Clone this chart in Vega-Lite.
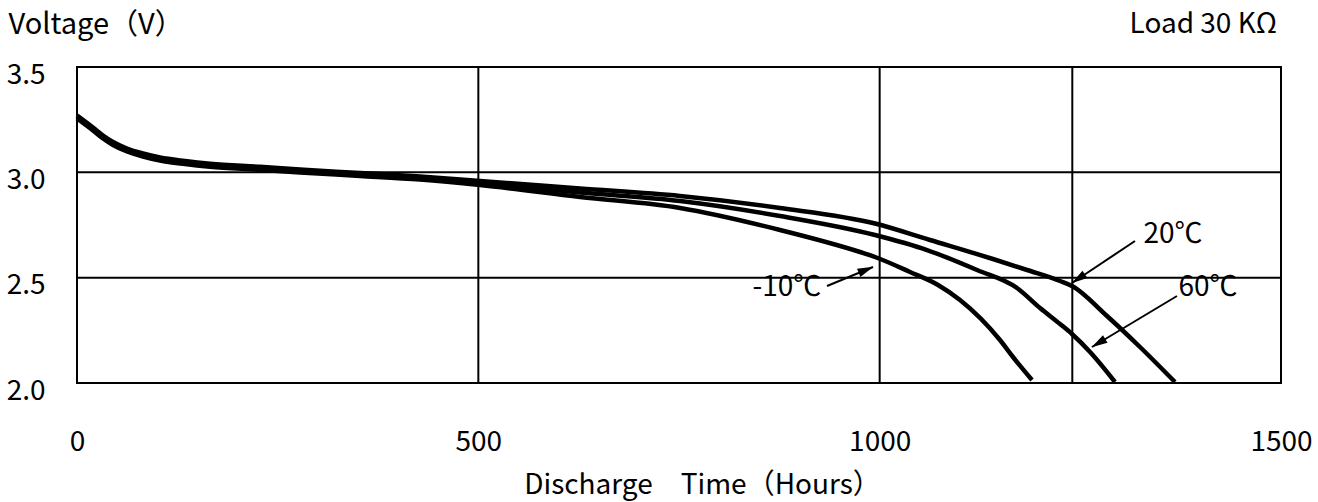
{
  "$schema": "https://vega.github.io/schema/vega-lite/v6.json",
  "width": 1204,
  "height": 316,
  "autosize": {"type": "none"},
  "padding": {"left": 77, "top": 67, "right": 37, "bottom": 119},
  "background": "white",
  "config": {
    "view": {"stroke": "black", "strokeWidth": 2},
    "font": "Noto Sans CJK SC",
    "axisX": {"grid": false, "domain": false, "ticks": false, "tickSize": 0,
      "labelFontSize": 28, "labelColor": "black", "labelFont": "Noto Sans CJK SC", "labelBaseline": "alphabetic", "labelPadding": 67, "labelFlush": false, "labelOverlap": false,
      "titleFontSize": 28, "titleFontWeight": "normal", "titleColor": "black", "titleFont": "Noto Sans CJK SC",
      "titleX": 625, "titleY": 110, "titleAlign": "center", "titleBaseline": "alphabetic"},
    "axisY": {"grid": false, "domain": false, "ticks": false, "tickSize": 0,
      "labelFontSize": 28, "labelColor": "black", "labelFont": "Noto Sans CJK SC", "labelAlign": "right", "labelBaseline": "middle", "labelPadding": 32, "labelOffset": 8, "labelOverlap": false, "labelFlush": false,
      "titleFontSize": 29, "titleFontWeight": "normal", "titleColor": "black", "titleFont": "Noto Sans CJK SC",
      "titleAngle": 0, "titleAlign": "left", "titleBaseline": "alphabetic", "titleX": -69, "titleY": -34}
  },
  "datasets": {
    "curves": [
      {"series": "20℃", "t": 0, "v": 3.2698}, {"series": "20℃", "t": 19.9, "v": 3.2128}, {"series": "20℃", "t": 32.4, "v": 3.1748}, {"series": "20℃", "t": 44.9, "v": 3.144}, {"series": "20℃", "t": 62.3, "v": 3.1131}, {"series": "20℃", "t": 82.2, "v": 3.0894}, {"series": "20℃", "t": 103.4, "v": 3.0704}, {"series": "20℃", "t": 134.6, "v": 3.0538}, {"series": "20℃", "t": 165.7, "v": 3.041}, {"series": "20℃", "t": 228, "v": 3.026}, {"series": "20℃", "t": 277.8, "v": 3.013}, {"series": "20℃", "t": 352.6, "v": 2.997}, {"series": "20℃", "t": 427.3, "v": 2.98}, {"series": "20℃", "t": 502.1, "v": 2.9589}, {"series": "20℃", "t": 626.7, "v": 2.9233}, {"series": "20℃", "t": 751.3, "v": 2.8877}, {"series": "20℃", "t": 875.8, "v": 2.8307}, {"series": "20℃", "t": 994.2, "v": 2.7571}, {"series": "20℃", "t": 1062.7, "v": 2.6788}, {"series": "20℃", "t": 1141.2, "v": 2.5886}, {"series": "20℃", "t": 1183.6, "v": 2.5364}, {"series": "20℃", "t": 1224.7, "v": 2.4842}, {"series": "20℃", "t": 1239.6, "v": 2.4604}, {"series": "20℃", "t": 1283.2, "v": 2.318}, {"series": "20℃", "t": 1324.3, "v": 2.1709}, {"series": "20℃", "t": 1367.9, "v": 2.0047},
      {"series": "60℃", "t": 0, "v": 3.2627}, {"series": "60℃", "t": 19.9, "v": 3.2057}, {"series": "60℃", "t": 32.4, "v": 3.1677}, {"series": "60℃", "t": 44.9, "v": 3.1369}, {"series": "60℃", "t": 62.3, "v": 3.106}, {"series": "60℃", "t": 82.2, "v": 3.0823}, {"series": "60℃", "t": 103.4, "v": 3.0633}, {"series": "60℃", "t": 134.6, "v": 3.0467}, {"series": "60℃", "t": 165.7, "v": 3.034}, {"series": "60℃", "t": 228, "v": 3.019}, {"series": "60℃", "t": 277.8, "v": 3.006}, {"series": "60℃", "t": 352.6, "v": 2.99}, {"series": "60℃", "t": 427.3, "v": 2.973}, {"series": "60℃", "t": 502.1, "v": 2.9494}, {"series": "60℃", "t": 626.7, "v": 2.9043}, {"series": "60℃", "t": 751.3, "v": 2.8639}, {"series": "60℃", "t": 875.8, "v": 2.7927}, {"series": "60℃", "t": 994.2, "v": 2.7025}, {"series": "60℃", "t": 1059, "v": 2.6313}, {"series": "60℃", "t": 1121.3, "v": 2.5364}, {"series": "60℃", "t": 1171.1, "v": 2.451}, {"series": "60℃", "t": 1199.8, "v": 2.356}, {"series": "60℃", "t": 1224.7, "v": 2.2801}, {"series": "60℃", "t": 1239.6, "v": 2.2326}, {"series": "60℃", "t": 1262.1, "v": 2.1472}, {"series": "60℃", "t": 1293.2, "v": 2.0047},
      {"series": "-10℃", "t": 0, "v": 3.2556}, {"series": "-10℃", "t": 19.9, "v": 3.1986}, {"series": "-10℃", "t": 32.4, "v": 3.1606}, {"series": "-10℃", "t": 44.9, "v": 3.1298}, {"series": "-10℃", "t": 62.3, "v": 3.0989}, {"series": "-10℃", "t": 82.2, "v": 3.0752}, {"series": "-10℃", "t": 103.4, "v": 3.0562}, {"series": "-10℃", "t": 134.6, "v": 3.0396}, {"series": "-10℃", "t": 165.7, "v": 3.027}, {"series": "-10℃", "t": 228, "v": 3.012}, {"series": "-10℃", "t": 277.8, "v": 2.999}, {"series": "-10℃", "t": 352.6, "v": 2.983}, {"series": "-10℃", "t": 427.3, "v": 2.966}, {"series": "-10℃", "t": 502.1, "v": 2.9399}, {"series": "-10℃", "t": 626.7, "v": 2.8829}, {"series": "-10℃", "t": 751.3, "v": 2.8307}, {"series": "-10℃", "t": 875.8, "v": 2.7263}, {"series": "-10℃", "t": 975.5, "v": 2.6218}, {"series": "-10℃", "t": 994.2, "v": 2.5981}, {"series": "-10℃", "t": 1037.8, "v": 2.5269}, {"series": "-10℃", "t": 1072.7, "v": 2.4652}, {"series": "-10℃", "t": 1100.1, "v": 2.394}, {"series": "-10℃", "t": 1149.9, "v": 2.2041}, {"series": "-10℃", "t": 1166.1, "v": 2.1234}, {"series": "-10℃", "t": 1189.8, "v": 2.0142}
    ],
    "gridH": [{"v": 3.0}, {"v": 2.5}],
    "gridV": [{"t": 500}, {"t": 1000}, {"t": 1240}],
    "labels": [
      {"label": "-10℃", "t": 884.5, "v": 2.451},
      {"label": "20℃", "t": 1365.5, "v": 2.7025},
      {"label": "60℃", "t": 1409, "v": 2.451}
    ],
    "arrows": [
      {"label": "-10℃", "t": 934.4, "v": 2.4604, "t2": 991.7, "v2": 2.5506, "ht": 983.1, "hv": 2.5369, "ang": 67.6},
      {"label": "20℃", "t": 1318.1, "v": 2.674, "t2": 1239.6, "v2": 2.4747, "ht": 1247.4, "hv": 2.4946, "ang": 236.3},
      {"label": "60℃", "t": 1370.4, "v": 2.413, "t2": 1264.5, "v2": 2.1709, "ht": 1272.5, "hv": 2.1894, "ang": 239}
    ],
    "note": [{"text": "Load 30 KΩ", "t": 1495, "v": 3.661}]
  },
  "layer": [
    {
      "data": {"name": "gridH"},
      "mark": {"type": "rule", "color": "black", "strokeWidth": 2},
      "encoding": {"y": {"field": "v", "type": "quantitative", "scale": {"domain": [2, 3.5], "nice": false, "zero": false}, "axis": {"title": "Voltage（V）", "values": [2, 2.5, 3, 3.5], "format": ".1f"}}}
    },
    {
      "data": {"name": "gridV"},
      "mark": {"type": "rule", "color": "black", "strokeWidth": 2},
      "encoding": {"x": {"field": "t", "type": "quantitative", "scale": {"domain": [0, 1500], "nice": false, "zero": false}, "axis": {"title": "Discharge　Time（Hours）", "values": [0, 500, 1000, 1500], "format": "d"}}}
    },
    {
      "data": {"name": "curves"},
      "mark": {"type": "line", "color": "black", "strokeWidth": 4.5, "interpolate": "monotone"},
      "encoding": {
        "x": {"field": "t", "type": "quantitative", "scale": {"domain": [0, 1500], "nice": false, "zero": false}, "axis": {"title": "Discharge　Time（Hours）", "values": [0, 500, 1000, 1500], "format": "d"}},
        "y": {"field": "v", "type": "quantitative", "scale": {"domain": [2, 3.5], "nice": false, "zero": false}, "axis": {"title": "Voltage（V）", "values": [2, 2.5, 3, 3.5], "format": ".1f"}},
        "detail": {"field": "series", "type": "nominal"}
      }
    },
    {
      "data": {"name": "arrows"},
      "mark": {"type": "rule", "color": "black", "strokeWidth": 2},
      "encoding": {
        "x": {"field": "t", "type": "quantitative", "axis": {"title": "Discharge　Time（Hours）", "values": [0, 500, 1000, 1500], "format": "d"}},
        "x2": {"field": "t2"},
        "y": {"field": "v", "type": "quantitative", "axis": {"title": "Voltage（V）", "values": [2, 2.5, 3, 3.5], "format": ".1f"}},
        "y2": {"field": "v2"}
      }
    },
    {
      "data": {"name": "arrows"},
      "mark": {"type": "point", "shape": "M0,-1L0.55,1L-0.55,1Z", "filled": true, "color": "black", "opacity": 1, "size": 256, "strokeWidth": 0},
      "encoding": {
        "x": {"field": "ht", "type": "quantitative", "axis": {"title": "Discharge　Time（Hours）", "values": [0, 500, 1000, 1500], "format": "d"}},
        "y": {"field": "hv", "type": "quantitative", "axis": {"title": "Voltage（V）", "values": [2, 2.5, 3, 3.5], "format": ".1f"}},
        "angle": {"field": "ang", "type": "quantitative", "scale": null}
      }
    },
    {
      "data": {"name": "labels"},
      "mark": {"type": "text", "color": "black", "fontSize": 28, "font": "Noto Sans CJK SC", "align": "center", "baseline": "middle"},
      "encoding": {
        "x": {"field": "t", "type": "quantitative", "axis": {"title": "Discharge　Time（Hours）", "values": [0, 500, 1000, 1500], "format": "d"}},
        "y": {"field": "v", "type": "quantitative", "axis": {"title": "Voltage（V）", "values": [2, 2.5, 3, 3.5], "format": ".1f"}},
        "text": {"field": "label"}
      }
    },
    {
      "data": {"name": "note"},
      "mark": {"type": "text", "color": "black", "fontSize": 28, "font": "Noto Sans CJK SC", "align": "right", "baseline": "alphabetic"},
      "encoding": {
        "x": {"field": "t", "type": "quantitative", "axis": {"title": "Discharge　Time（Hours）", "values": [0, 500, 1000, 1500], "format": "d"}},
        "y": {"field": "v", "type": "quantitative", "axis": {"title": "Voltage（V）", "values": [2, 2.5, 3, 3.5], "format": ".1f"}},
        "text": {"field": "text"}
      }
    }
  ]
}
